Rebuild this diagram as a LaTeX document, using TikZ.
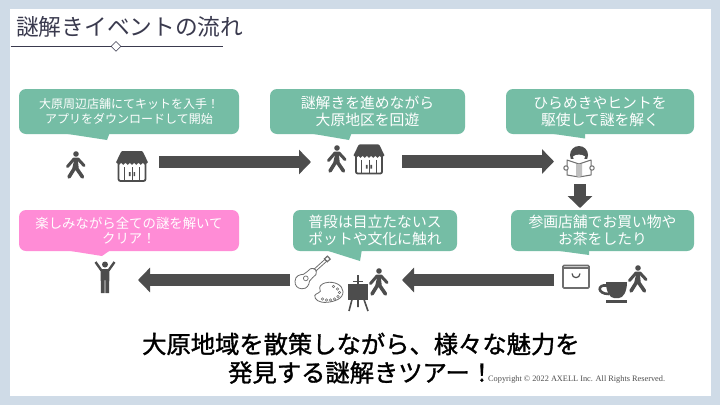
\documentclass[tikz,border=0pt]{standalone}
\usepackage{fontspec}
\setmainfont{Noto Sans CJK JP}
\newfontfamily\leadfont[FakeBold=1.3]{Noto Sans CJK JP}
\newfontfamily\copyfont{Liberation Serif}
\usepackage{xcolor}
\definecolor{cFrame}{HTML}{CFDBE7}
\definecolor{cTitle}{HTML}{3A3A4E}
\definecolor{cBub}{HTML}{75BDA5}
\definecolor{cGoal}{HTML}{FF8CD6}
\definecolor{ink}{HTML}{4D4D4D}
\definecolor{ink2}{HTML}{6E6E6E}
\usetikzlibrary{arrows.meta,shapes.geometric}

\tikzset{
  walker/.pic={
    \fill[ink] (0,-11) circle (2.8);
    \draw[ink,line width=3pt,line cap=round,line join=round]
      (-8.5,1.5) -- (-2,-6) -- (2,-6) -- (8,0.5);
    \draw[ink,line width=3.6pt,line cap=round,line join=round]
      (-7,12) -- (-2,4) -- (0,-5) (0,-5) -- (1,4) -- (6.5,12);
  },
  shop/.pic={
    \draw[ink,line width=1.8pt,rounded corners=2pt] (-13.5,-3) -- (-13.5,15) -- (13.5,15) -- (13.5,-3);
    \fill[ink,rounded corners=1pt] (-10.5,-15) -- (10.5,-15) -- (16.3,-3) -- (-16.3,-3) -- cycle;
    \foreach \sx in {-13,-8.7,-4.3,0,4.3,8.7,13}
      \fill[ink] (\sx,-3) circle (1.8);
    \draw[ink,line width=1pt] (-7.5,1) -- (-7.5,15) (7.5,1) -- (7.5,15) (0,1) -- (0,15);
    \fill[ink] (-3.2,6) rectangle (-1.5,10) (1.5,6) rectangle (3.2,10);
  },
  reader/.pic={
    \fill[ink] (0,-12) circle (9);
    \fill[white] (-6,-10.5) .. controls (-3,-13) and (3,-13) .. (6,-10.5) -- (4,-4) -- (-4,-4) -- cycle;
    \fill[white] (-15,-8) rectangle (15,10);
    \draw[ink2,line width=1pt,line join=round,fill=white] (0,-3) -- (-12,-7) -- (-12,8) -- (0,10) -- (12,8) -- (12,-7) -- cycle;
    \fill[black!25] (-3,-3) -- (3,-3) -- (3,9) -- (0,10) -- (-3,9) -- cycle;
    \draw[ink2,line width=1pt,fill=white] (-13,1) circle (2.2) (13,1) circle (2.2);
  },
  bagicon/.pic={
    \draw[ink2,line width=1.6pt,rounded corners=1pt] (-13,11.5) rectangle (13,-11);
    \draw[ink2,line width=1.6pt] (-13,-8.5) -- (13,-8.5);
    \draw[ink,line width=1.2pt] (-4,-3) .. controls (-4,2.5) and (4,2.5) .. (4,-3);
  },
  cupicon/.pic={
    \draw[ink,line width=2.6pt] (-5,-6.5) .. controls (-15,-8) and (-15,2) .. (-3,2);
    \fill[ink] (-6,-10) -- (15,-10) .. controls (15,0) and (11,6) .. (7,6) -- (2,6) .. controls (-2,6) and (-6,0) .. (-6,-10) -- cycle;
    \draw[ink,line width=2.4pt] (-6,9.5) -- (15,9.5);
  },
  goal/.pic={
    \fill[ink] (0,-12.5) circle (3);
    \fill[ink] (-4.5,-8) -- (4.5,-8) -- (4,16) -- (0.4,16) -- (0.4,3) -- (-0.4,3) -- (-0.4,16) -- (-4,16) -- cycle;
    \draw[ink,line width=2.4pt] (-9.5,-15) -- (-3.5,-6.5) (9.5,-15) -- (3.5,-6.5);
  },
  guitar/.pic={
    \draw[ink2,line width=0.8pt,line join=round,rotate=42]
      (-15,-5) .. controls (-11,-9) and (-7,-7) .. (-4,-4.5) .. controls (-1,-3) and (2,-5) .. (5,-4)
      .. controls (9,-2) and (9,2) .. (5,4) .. controls (2,5) and (-1,3) .. (-4,4.5)
      .. controls (-7,7) and (-11,9) .. (-15,5) .. controls (-18,2) and (-18,-2) .. (-15,-5) -- cycle;
    \draw[ink2,line width=0.8pt,rotate=42] (7,-1.3) -- (22,-1.3) -- (22,1.3) -- (7,1.3);
    \draw[ink2,line width=1.2pt,rotate=42] (22,-2) rectangle (26,2);
    \draw[ink2,line width=0.7pt,rotate=42] (-5,0) circle (2.4);
  },
  palette/.pic={
    \draw[ink2,line width=0.8pt,rotate=8] (-2,-10) .. controls (8,-11) and (15,-5) .. (14.5,1)
      .. controls (14,8) and (5,10) .. (-3,9.5) .. controls (-11,9) and (-15,5) .. (-14,1)
      .. controls (-13,-1) and (-6,-1) .. (-8,-4) .. controls (-9,-7) and (-6,-9.5) .. (-2,-10) -- cycle;
    \foreach \px/\py in {5/-6,9/-3.5,11/0,9.5/4,6/6.5,2/7.5,-2/7.5,-6/6.5}
      \draw[ink2,line width=0.6pt] (\px,\py) circle (1.2);
  },
  easel/.pic={
    \fill[ink] (-10,-7.5) rectangle (10,8.5);
    \draw[ink,line width=1.6pt] (0,-16) -- (0,-7.5) (-5,-9.5) -- (5,-9.5);
    \draw[ink,line width=1.6pt] (-6,8.5) -- (-9,20) (6,8.5) -- (10,20) (0,8.5) -- (0,16);
  }
}

\begin{document}
\begin{tikzpicture}[
  x=1pt,y=-1pt,
  every node/.style={align=center},
  bub/.style={fill=#1,rounded corners=7pt,text=white,inner sep=0pt},
  bub/.default=cBub,
  tail/.style={fill=#1},
  tail/.default=cBub,
  flow/.style={-{Triangle[length=12pt,width=24pt]},ink,line width=12.5pt},
  s/.style={font=\fontsize{12}{14.5}\selectfont},
  m/.style={font=\fontsize{14.8}{17.2}\selectfont},
  lead/.style={font=\fontsize{24.3}{31}\leadfont,text=black,inner sep=0pt,anchor=west}]

% --- slide ---
\fill[cFrame] (0,0) rectangle (720,405);
\fill[white] (9.5,9) rectangle (710.5,395.5);

% --- title ---
\node[anchor=west,inner sep=0pt,text=cTitle,font=\fontsize{22.7}{26}\selectfont] (title) at (16,26.5) {謎解きイベントの流れ};
\coordinate (ruleL) at (10.5,46.3);
\coordinate (ruleR) at (222.5,46.3);
\draw[cTitle,line width=0.8pt] (ruleL) -- (ruleR);
\node[diamond,draw=cTitle,fill=white,line width=0.6pt,minimum size=10pt,inner sep=0pt] (mark) at (116,46.3) {};

% --- arrow ends ---
\coordinate (a1) at (159,162);
\coordinate (a2) at (311,162);
\coordinate (b1) at (402,161.5);
\coordinate (b2) at (554,161.5);
\coordinate (c1) at (580,184);
\coordinate (c2) at (580,208);
\coordinate (d1) at (554,280);
\coordinate (d2) at (402,280);
\coordinate (e1) at (290,280);
\coordinate (e2) at (138,280);
\draw[flow] (a1) -- (a2);
\draw[flow] (b1) -- (b2);
\draw[flow] (c1) -- (c2);
\draw[flow] (d1) -- (d2);
\draw[flow] (e1) -- (e2);

% --- top row ---
\fill[tail] (55,132) -- (107,140) -- (110,132) -- cycle;
\node[bub,s,minimum width=220pt,minimum height=45pt] (kit) at (129,111.5) {大原周辺店舗にてキットを入手！\\アプリをダウンロードして開始};
\fill[tail] (302,132) -- (349,140) -- (352,132) -- cycle;
\node[bub,m,minimum width=195pt,minimum height=45pt] (walk) at (367.5,111.5) {謎解きを進めながら\\大原地区を回遊};
\fill[tail] (540,132) -- (585,138.5) -- (585,132) -- cycle;
\node[bub,m,minimum width=188pt,minimum height=45pt] (hint) at (600,111.5) {ひらめきやヒントを\\駆使して謎を解く};

% --- bottom row ---
\fill[tail] (545,249) -- (589,255) -- (589,249) -- cycle;
\node[bub,m,minimum width=183pt,minimum height=41pt] (shopping) at (602.5,230.5) {参画店舗でお買い物や\\お茶をしたり};
\fill[tail] (322,249) -- (360,261) -- (362,249) -- cycle;
\node[bub,m,minimum width=164pt,minimum height=41pt] (culture) at (375,230.5) {普段は目立たないス\\ポットや文化に触れ};
\fill[tail=cGoal] (58,249) -- (102,256) -- (112,249) -- cycle;
\node[bub=cGoal,font=\fontsize{13.4}{15.5}\selectfont,minimum width=220pt,minimum height=41pt] (clear) at (129,230.5) {楽しみながら全ての謎を解いて\\クリア！};

% --- icons ---
\pic at (76,165) {walker};
\pic at (132,166) {shop};
\pic at (337,159) {walker};
\pic[scale=0.97] at (369,159) {shop};
\pic at (579,167) {reader};
\pic at (576,276.5) {bagicon};
\pic at (612,292) {cupicon};
\pic at (638,279) {walker};
\pic at (379,282) {walker};
\pic at (358,291) {easel};
\pic at (309.5,275) {guitar};
\pic at (328.5,292.5) {palette};
\pic at (105,277) {goal};

% --- closing text ---
\node[lead] (lead1) at (142,344) {大原地域を散策しながら、様々な魅力を};
\node[lead] (lead2) at (228,372.5) {発見する謎解きツアー！};
\node[anchor=west,inner sep=0pt,text=ink,font=\fontsize{8.3}{9}\selectfont\copyfont] (copy) at (488,379.5) {Copyright © 2022 AXELL Inc. All Rights Reserved.};
\end{tikzpicture}
\end{document}
